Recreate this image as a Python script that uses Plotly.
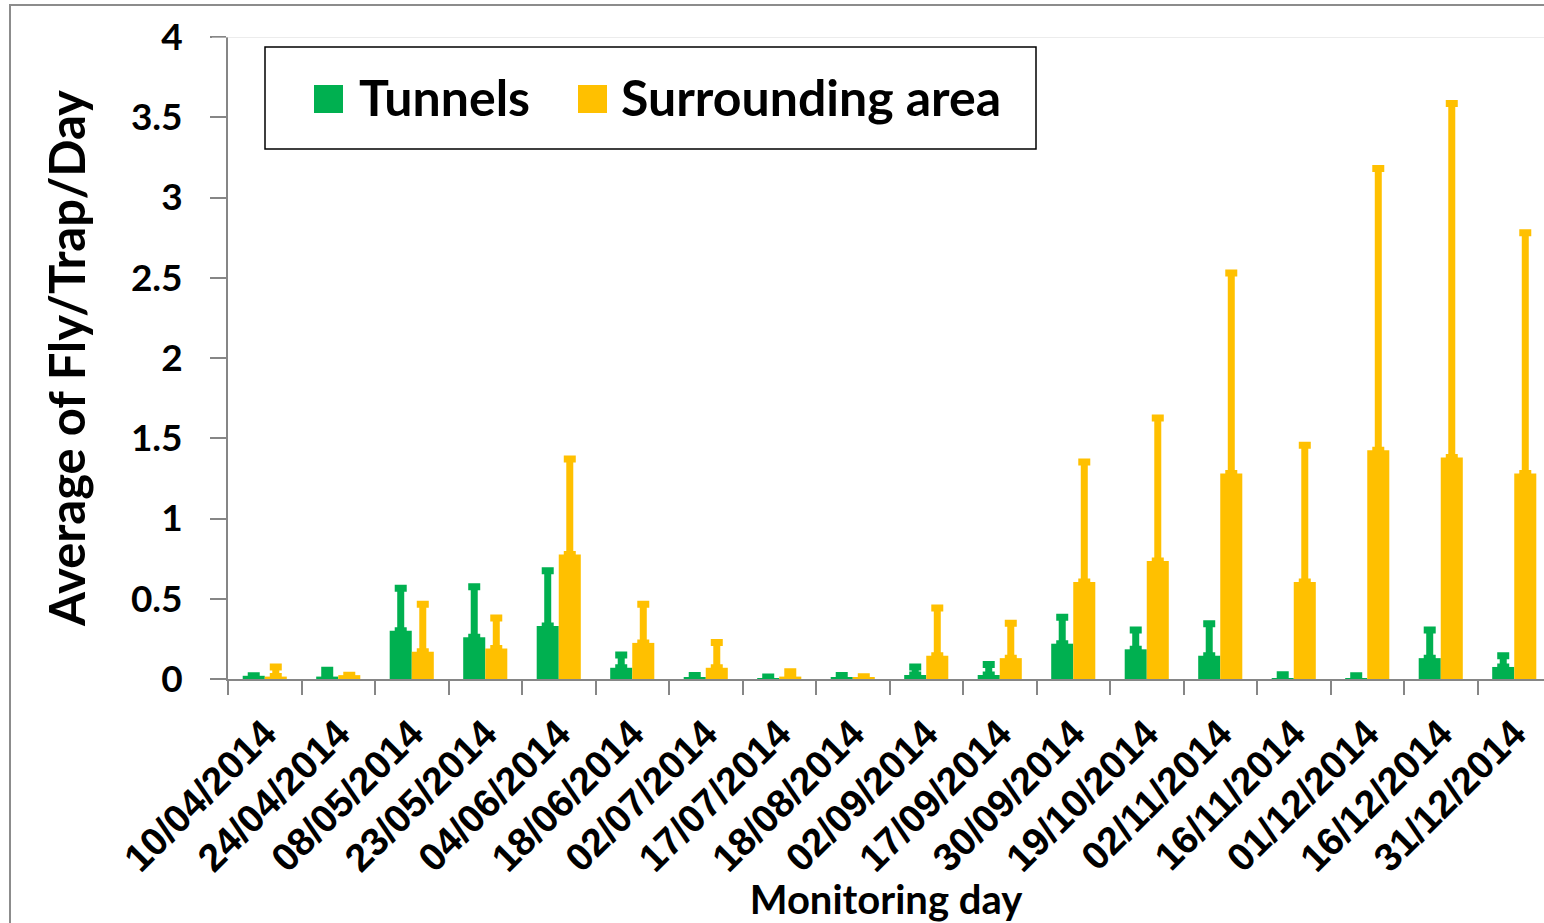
import plotly.graph_objects as go

dates = ["10/04/2014", "24/04/2014", "08/05/2014", "23/05/2014", "04/06/2014",
         "18/06/2014", "02/07/2014", "17/07/2014", "18/08/2014", "02/09/2014",
         "17/09/2014", "30/09/2014", "19/10/2014", "02/11/2014", "16/11/2014",
         "01/12/2014", "16/12/2014", "31/12/2014"]

series_names = ["Tunnels", "Surrounding area"]
series_colors = ["#00B050", "#FFC000"]

tunnels = [0.02, 0.015, 0.30, 0.26, 0.33, 0.07, 0.01, 0.005, 0.01, 0.025,
           0.025, 0.22, 0.185, 0.145, 0.005, 0.005, 0.13, 0.075]
tunnels_err = [None, 0.04, 0.265, 0.315, 0.345, 0.08, 0.012, 0.008, 0.012, 0.05,
               0.065, 0.165, 0.12, 0.20, 0.022, 0.015, 0.175, 0.07]

surround = [0.015, 0.024, 0.17, 0.19, 0.775, 0.225, 0.07, 0.015, 0.008, 0.145,
            0.13, 0.605, 0.735, 1.28, 0.605, 1.425, 1.38, 1.28]
surround_err = [0.06, None, 0.295, 0.19, 0.595, 0.24, 0.157, 0.03, 0.006, 0.297,
                0.218, 0.747, 0.891, 1.25, 0.851, 1.755, 2.206, 1.5]

y_ticks = [0, 0.5, 1, 1.5, 2, 2.5, 3, 3.5, 4]
y_tick_text = ["0", "0.5", "1", "1.5", "2", "2.5", "3", "3.5", "4"]

W, H = 1544, 923
L, T, B = 228, 37, 679  # plot area pixel edges
PW, PH = W - L, B - T


def px(x):
    return (x - L) / PW


def py(y):
    return (B - y) / PH


fig = go.Figure()
for name, vals, errs, col in [(series_names[0], tunnels, tunnels_err, series_colors[0]),
                              (series_names[1], surround, surround_err, series_colors[1])]:
    fig.add_trace(go.Bar(
        x=dates, y=vals, name=name, marker=dict(color=col, line=dict(width=0)),
        error_y=dict(type="data", array=errs, symmetric=False,
                     arrayminus=[0] * len(errs), color=col, thickness=7, width=6),
        showlegend=False,
    ))

cat_w = 73.5
x_end = PW / cat_w - 0.5

shapes = [
    # outer frame
    dict(type="rect", xref="paper", yref="paper", x0=px(10), x1=px(1600),
         y0=py(1000), y1=py(5), line=dict(color="#8c8c8c", width=2), layer="below"),
    # top line at y=4
    dict(type="line", xref="paper", yref="y", x0=px(212), x1=1.0, y0=4, y1=4,
         line=dict(color="#d9d9d9", width=1)),
    # legend box
    dict(type="rect", xref="paper", yref="paper", x0=px(265), x1=px(1036),
         y0=py(149), y1=py(47), line=dict(color="black", width=1.5),
         fillcolor="white", layer="above"),
]
annotations = []
leg_sq = [(314, 343), (578, 607)]
leg_tx = [357, 619]
for i in range(2):
    shapes.append(dict(type="rect", xref="paper", yref="paper",
                       x0=px(leg_sq[i][0]), x1=px(leg_sq[i][1]),
                       y0=py(113), y1=py(85), line=dict(width=0),
                       fillcolor=series_colors[i], layer="above"))
    annotations.append(dict(xref="paper", yref="paper", x=px(leg_tx[i]), y=py(97),
                            xanchor="left", yanchor="middle", showarrow=False,
                            text="<b>%s</b>" % series_names[i],
                            font=dict(family="Lato", size=50, color="black")))

fig.update_layout(
    width=W, height=H,
    margin=dict(l=L, r=0, t=T, b=H - B, pad=0),
    paper_bgcolor="white", plot_bgcolor="white",
    barmode="group", bargap=0.40, bargroupgap=0,
    shapes=shapes, annotations=annotations,
    xaxis=dict(
        type="category", range=[-0.5, x_end],
        tickson="boundaries", ticks="outside", ticklen=14, tickcolor="#868686",
        tickwidth=2, showline=True, linecolor="#868686", linewidth=2,
        tickangle=-45, showgrid=False, ticklabelstandoff=14,
        tickfont=dict(family="Liberation Sans", size=39, color="black", weight="bold"),
        title=dict(text="<b>Monitoring day</b>",
                   font=dict(family="Lato", size=40, color="black"), standoff=6),
    ),
    yaxis=dict(
        range=[0, 4], tickvals=y_ticks, ticktext=y_tick_text,
        ticks="outside", ticklen=16, tickcolor="#868686", tickwidth=2,
        showline=True, linecolor="#868686", linewidth=2, showgrid=False,
        zeroline=False, ticklabelstandoff=20,
        tickfont=dict(family="Lato", size=37, color="black", weight="bold"),
        title=dict(text="<b>Average of Fly/Trap/Day</b>",
                   font=dict(family="Lato", size=49, color="black"), standoff=30),
    ),
)

fig.write_html("out.html", config={"displayModeBar": False},
               post_script="document.body.style.margin='0px';document.body.style.overflow='hidden';")
